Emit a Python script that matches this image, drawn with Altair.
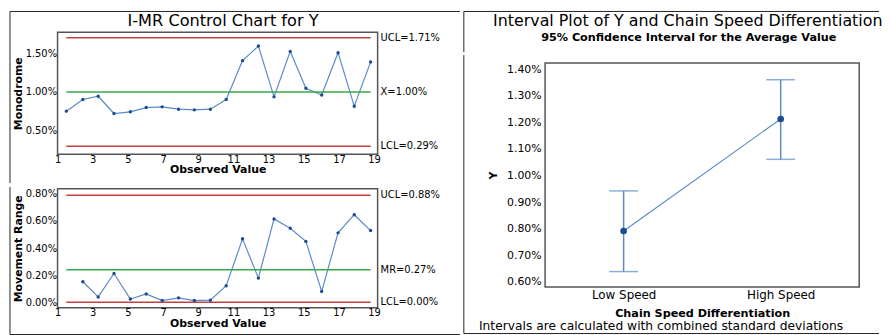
import altair as alt
import pandas as pd

# ---- data ----
obs_x = [1.50, 2.44, 3.31, 4.21, 5.14, 6.04, 6.95, 7.88, 8.78, 9.69,
         10.59, 11.52, 12.42, 13.31, 14.23, 15.12, 16.02, 16.95, 17.87, 18.80]
y_values = [0.748, 0.900, 0.943, 0.717, 0.739, 0.795, 0.804, 0.774, 0.765, 0.774,
            0.900, 1.409, 1.600, 0.935, 1.530, 1.048, 0.960, 1.513, 0.813, 1.390]
mr_values = [0.151, 0.039, 0.212, 0.024, 0.061, 0.012, 0.032, 0.012, 0.015,
             0.122, 0.468, 0.178, 0.615, 0.546, 0.449, 0.080, 0.512, 0.646, 0.529]
i_limits = [1.71, 1.00, 0.29]
i_labels = ["UCL=1.71%", "X=1.00%", "LCL=0.29%"]
mr_limits = [0.79, 0.24, 0.00]
mr_labels = ["UCL=0.88%", "MR=0.27%", "LCL=0.00%"]
limit_kind = ["limit", "center", "limit"]
i_ticks = [0.5, 1.0, 1.5]
mr_ticks = [0.0, 0.2, 0.4, 0.6, 0.8]
x_ticks = [1, 3, 5, 7, 9, 11, 13, 15, 17, 19]

groups = ["Low Speed", "High Speed"]
means = [0.791, 1.213]
lower = [0.638, 1.061]
upper = [0.942, 1.361]
int_ticks = [0.6, 0.7, 0.8, 0.9, 1.0, 1.1, 1.2, 1.3, 1.4]

left_title = "I-MR Control Chart for Y"
right_title = "Interval Plot of Y and Chain Speed Differentiation"
right_subtitle = "95% Confidence Interval for the Average Value"
footnote = "Intervals are calculated with combined standard deviations"

FONT = "DejaVu Sans"
RED = "#c8403c"
GREEN = "#3aa64a"
LINE = "#5a8bc8"
DOT = "#1d4c91"
FRAME = "#555555"
BORDER = "#222222"

i_df = pd.DataFrame({"obs": obs_x, "value": y_values})
mr_df = pd.DataFrame({"obs": obs_x[1:], "value": mr_values})
i_lim = pd.DataFrame({"value": i_limits, "label": i_labels, "kind": limit_kind})
mr_lim = pd.DataFrame({"value": mr_limits, "label": mr_labels, "kind": limit_kind})
int_df = pd.DataFrame({"group": groups, "mean": means, "lower": lower, "upper": upper})
one_row = pd.DataFrame({"k": [0]})

x_max = 19.2
x_scale = alt.Scale(domain=[1, x_max], nice=False, zero=False)
color_scale = alt.Scale(domain=["limit", "center"], range=[RED, GREEN])
pct = "format(datum.value, '.2f') + '%'"


def txt(s, x, y, size, weight="normal"):
    return alt.Chart(one_row).mark_text(
        text=s, fontSize=size, fontWeight=weight, align="center", baseline="middle",
        font=FONT, color="black").encode(x=alt.value(x), y=alt.value(y))


def hline(x1, x2, y):
    return alt.Chart(one_row).mark_rule(color=BORDER, strokeWidth=1).encode(
        x=alt.value(x1), x2=alt.value(x2), y=alt.value(y))


def vline(x, y1, y2):
    return alt.Chart(one_row).mark_rule(color=BORDER, strokeWidth=1).encode(
        x=alt.value(x), y=alt.value(y1), y2=alt.value(y2))


def x_axis():
    return alt.Axis(values=x_ticks, tickCount=50, format="d", title="Observed Value",
                    ticks=False, grid=False, domain=False, labelPadding=0,
                    labelFontSize=10, labelFlush=False, labelOverlap=False,
                    titleFontSize=11, titleFontWeight="bold", titlePadding=0)


def control_panel(df, lim, ticks, domain, ytitle, height, extras):
    y_scale = alt.Scale(domain=domain, nice=False, zero=False)
    y_axis = alt.Axis(values=ticks, tickCount=50, labelExpr=pct, title=ytitle, ticks=False,
                      grid=False, domain=False, labelPadding=1, labelFontSize=10,
                      labelOverlap=False, titleFontSize=11, titleFontWeight="bold",
                      titlePadding=2)
    line = alt.Chart(df).mark_line(color=LINE, strokeWidth=1.2).encode(
        x=alt.X("obs:Q", scale=x_scale, axis=x_axis()),
        y=alt.Y("value:Q", scale=y_scale, axis=y_axis),
    )
    rules = alt.Chart(lim).mark_rule(strokeWidth=1.5).encode(
        x=alt.datum(obs_x[0]),
        x2=alt.datum(obs_x[-1]),
        y=alt.Y("value:Q"),
        color=alt.Color("kind:N", scale=color_scale, legend=None),
    )
    labels = alt.Chart(lim).mark_text(align="left", dx=3, fontSize=10, font=FONT,
                                      color="black").encode(
        x=alt.datum(x_max),
        y=alt.Y("value:Q"),
        text="label:N",
    )
    pts = alt.Chart(df).mark_point(filled=True, size=12, color=DOT, opacity=1).encode(
        x="obs:Q", y="value:Q")
    return alt.layer(line, rules, pts, labels, *extras).properties(width=323, height=height)


# left panel: plot left at page x 56, top plot top at page y 29, bottom plot top 183
top = control_panel(i_df, i_lim, i_ticks, [0.185, 1.78], "Monodrome", 123, [
    txt(left_title, 167, -11, 16.3),
    hline(-48, 406, -21),
    vline(-48, -21, 152),
])
bottom = control_panel(mr_df, mr_lim, mr_ticks, [-0.041, 0.837], "Movement Range", 120, [
    vline(-48, -2, 147),
    hline(-48, 406, 147),
])

# ---- interval plot: header row aligned with the top control chart ----
header = alt.layer(
    txt(right_title, 144, -11, 16),
    txt(right_subtitle, 145, 6, 11.3, "bold"),
    hline(-82, 337, -21),
    vline(-82, -21, 20),
).properties(width=317, height=20, view=alt.ViewBackground(strokeOpacity=0))

gx = alt.X("group:N", sort=groups, scale=alt.Scale(type="point", padding=0.5),
           axis=alt.Axis(labelAngle=0, ticks=False, domain=False, grid=False,
                         labelFontSize=12, labelPadding=3,
                         title="Chain Speed Differentiation", titleFontSize=11.3,
                         titleFontWeight="bold", titlePadding=7))
gxs = alt.X("group:N", sort=groups)
gy_scale = alt.Scale(domain=[0.58, 1.424], nice=False, zero=False)
gy_axis = alt.Axis(values=int_ticks, tickCount=50, labelExpr=pct, title="Y", ticks=False,
                   grid=False, domain=False, labelFontSize=11, labelPadding=4,
                   labelOverlap=False, titleFontSize=11, titleFontWeight="bold",
                   titlePadding=8)

base = alt.Chart(int_df)
bars = base.mark_rule(color=LINE, strokeWidth=1.5).encode(
    x=gx, y=alt.Y("lower:Q", scale=gy_scale, axis=gy_axis), y2="upper:Q")
cap_lo = base.mark_tick(color=LINE, size=29, thickness=1.5, orient="horizontal").encode(
    x=gxs, y="lower:Q")
cap_hi = base.mark_tick(color=LINE, size=29, thickness=1.5, orient="horizontal").encode(
    x=gxs, y="upper:Q")
mline = base.mark_line(color=LINE, strokeWidth=1.2).encode(x=gxs, y="mean:Q")
mpts = base.mark_point(filled=True, size=45, color=DOT, opacity=1).encode(
    x=gxs, y="mean:Q")

interval = alt.layer(
    bars, cap_lo, cap_hi, mline, mpts,
    txt(footnote, 117, 265, 12.4),
    vline(-82, -8, 273),
    hline(-82, 337, 273),
).properties(width=317, height=226)

chart = alt.hconcat(
    alt.vconcat(top, bottom, spacing=0),
    alt.vconcat(header, interval, spacing=0),
    spacing=0,
).properties(padding=0).configure_view(
    stroke=FRAME, strokeWidth=1.5
).configure_axis(
    labelFont=FONT, titleFont=FONT, labelColor="black", titleColor="black",
    labelOverlap=False
).configure_text(font=FONT)

chart.save("out.html", embed_options={"renderer": "svg", "actions": False})
